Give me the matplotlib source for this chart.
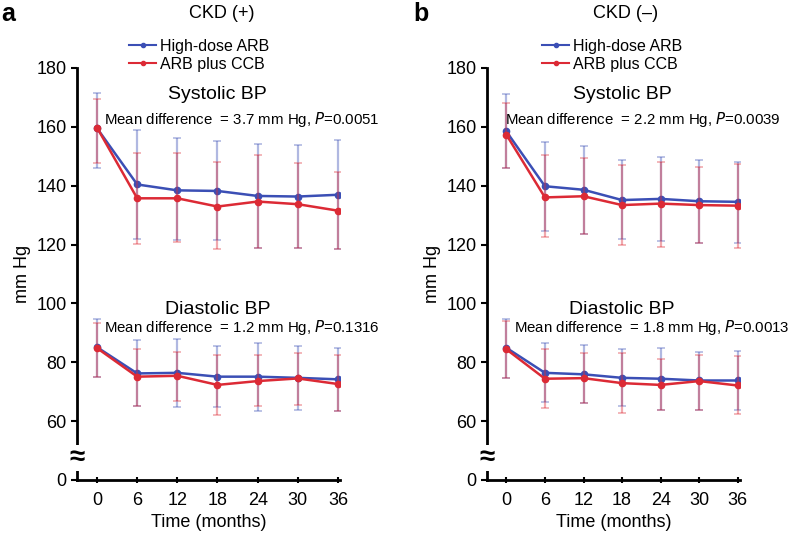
import numpy as np
import matplotlib.pyplot as plt
from matplotlib.lines import Line2D

plt.rcParams['font.family'] = ['Liberation Sans', 'DejaVu Sans']

months = [0, 6, 12, 18, 24, 30, 36]
tick_vals = [40, 60, 80, 100, 120, 140, 160, 180]
tick_labels = ['0', '60', '80', '100', '120', '140', '160', '180']

# CKD (+) : mean, lower, upper
a_sys_hd = [159.5, 140.4, 138.4, 138.2, 136.5, 136.3, 136.9]
a_sys_hd_lo = [146.0, 122.0, 121.4, 121.4, 118.8, 118.8, 118.4]
a_sys_hd_up = [171.6, 158.9, 156.1, 155.0, 154.2, 153.7, 155.4]
a_sys_cc = [159.7, 135.7, 135.7, 132.9, 134.6, 133.7, 131.5]
a_sys_cc_lo = [147.7, 120.3, 120.8, 118.4, 118.8, 118.8, 118.4]
a_sys_cc_up = [169.6, 151.1, 151.1, 148.0, 150.3, 147.7, 144.6]
a_dia_hd = [85.1, 76.2, 76.4, 75.1, 75.1, 74.7, 74.2]
a_dia_hd_lo = [75.1, 65.2, 64.8, 64.8, 63.6, 63.9, 63.3]
a_dia_hd_up = [94.7, 87.4, 88.0, 85.4, 86.6, 85.5, 84.9]
a_dia_cc = [84.8, 75.1, 75.4, 72.3, 73.6, 74.5, 72.6]
a_dia_cc_lo = [75.1, 65.0, 67.0, 62.0, 65.0, 65.5, 63.3]
a_dia_cc_up = [93.5, 84.6, 83.5, 82.4, 82.4, 83.3, 82.6]

# CKD (-)
b_sys_hd = [158.4, 139.8, 138.6, 135.1, 135.5, 134.7, 134.5]
b_sys_hd_lo = [146.0, 124.5, 123.7, 121.9, 121.1, 120.6, 120.6]
b_sys_hd_up = [171.1, 154.7, 153.6, 148.6, 149.9, 148.6, 148.0]
b_sys_cc = [157.3, 136.0, 136.4, 133.4, 133.9, 133.4, 133.2]
b_sys_cc_lo = [146.0, 122.6, 123.7, 119.7, 119.1, 120.6, 118.9]
b_sys_cc_up = [168.2, 150.5, 149.4, 147.1, 148.0, 146.3, 147.5]
b_dia_hd = [84.9, 76.4, 75.9, 74.7, 74.4, 73.8, 73.8]
b_dia_hd_lo = [74.6, 66.6, 66.3, 65.0, 63.7, 63.9, 63.7]
b_dia_hd_up = [94.7, 86.7, 85.9, 84.4, 84.9, 83.6, 83.9]
b_dia_cc = [84.4, 74.4, 74.6, 72.9, 72.3, 73.6, 72.1]
b_dia_cc_lo = [74.6, 64.4, 66.3, 62.7, 63.7, 63.9, 62.3]
b_dia_cc_up = [93.9, 84.4, 83.0, 83.0, 81.0, 82.4, 82.1]

blue = '#3b4fb5'
red = '#dc2a35'


def series(ax, m, lo, up, color):
    m = np.array(m)
    err = [m - np.array(lo), np.array(up) - m]
    ax.errorbar(months, m, yerr=err, fmt='none', ecolor=color, alpha=0.4,
                elinewidth=1.6, capsize=3, capthick=1.2)
    ax.plot(months, m, color=color, lw=1.8, marker='o', ms=4.5)


def panel(ax, data, title, letter, txt_sys, txt_dia, x_sys, x_dia, leg_x):
    for m, lo, up, c in data:
        series(ax, m, lo, up, c)
    ax.set_xlim(-3, 36.3)
    ax.set_ylim(40, 180)
    for s in ['top', 'right']:
        ax.spines[s].set_visible(False)
    for s in ['left', 'bottom']:
        ax.spines[s].set_linewidth(2)
    ax.set_yticks(tick_vals)
    ax.set_yticklabels(tick_labels)
    ax.set_xticks(months)
    ax.tick_params(axis='y', direction='out', length=4, width=1.5, labelsize=13)
    ax.tick_params(axis='x', direction='inout', length=5, width=1.5, labelsize=13, pad=6)
    ax.set_xlabel('Time (months)', fontsize=13)
    ax.set_ylabel('mm Hg', fontsize=13)
    ax.text(-3, 47.5, '\u2248', fontsize=20, ha='center', va='center', fontweight='bold',
            bbox=dict(facecolor='white', edgecolor='none', pad=0))
    ax.text(0.55, 1.132, title, transform=ax.transAxes, fontsize=13,
            ha='center', va='center')
    ax.text(-0.26, 1.132, letter, transform=ax.transAxes, fontsize=18, fontweight='bold',
            ha='center', va='center')
    ax.text(18, 170.8, 'Systolic BP', fontsize=14, ha='center', va='center')
    ax.text(x_sys, 162.5, txt_sys, fontsize=10.8, ha='left', va='center')
    ax.text(18, 97.8, 'Diastolic BP', fontsize=14, ha='center', va='center')
    ax.text(x_dia, 91.7, txt_dia, fontsize=10.8, ha='left', va='center')
    handles = [Line2D([], [], color=blue, lw=1.5, marker='o', ms=3),
               Line2D([], [], color=red, lw=1.5, marker='o', ms=3)]
    ax.legend(handles, ['High-dose ARB', 'ARB plus CCB'], loc='upper center',
              bbox_to_anchor=(leg_x, 1.09), frameon=False, fontsize=11.5,
              handlelength=1.7, handletextpad=0.25, labelspacing=0.2, borderpad=0)


fig = plt.figure(figsize=(7.92, 5.39), dpi=100)
ax1 = fig.add_axes([0.0972, 0.1095, 0.332, 0.7645])
ax2 = fig.add_axes([0.615, 0.1095, 0.319, 0.7645])

panel(ax1, [(a_sys_hd, a_sys_hd_lo, a_sys_hd_up, blue), (a_sys_cc, a_sys_cc_lo, a_sys_cc_up, red),
            (a_dia_hd, a_dia_hd_lo, a_dia_hd_up, blue), (a_dia_cc, a_dia_cc_lo, a_dia_cc_up, red)],
      'CKD (+)', 'a',
      'Mean difference  = 3.7 mm Hg, $P$=0.0051',
      'Mean difference  = 1.2 mm Hg, $P$=0.1316', 1.1, 1.0, 0.465)
panel(ax2, [(b_sys_hd, b_sys_hd_lo, b_sys_hd_up, blue), (b_sys_cc, b_sys_cc_lo, b_sys_cc_up, red),
            (b_dia_hd, b_dia_hd_lo, b_dia_hd_up, blue), (b_dia_cc, b_dia_cc_lo, b_dia_cc_up, red)],
      'CKD (\u2013)', 'b',
      'Mean difference  = 2.2 mm Hg, $P$=0.0039',
      'Mean difference  = 1.8 mm Hg, $P$=0.0013', -0.15, 1.25, 0.495)

fig.savefig('out.png', dpi=100)
